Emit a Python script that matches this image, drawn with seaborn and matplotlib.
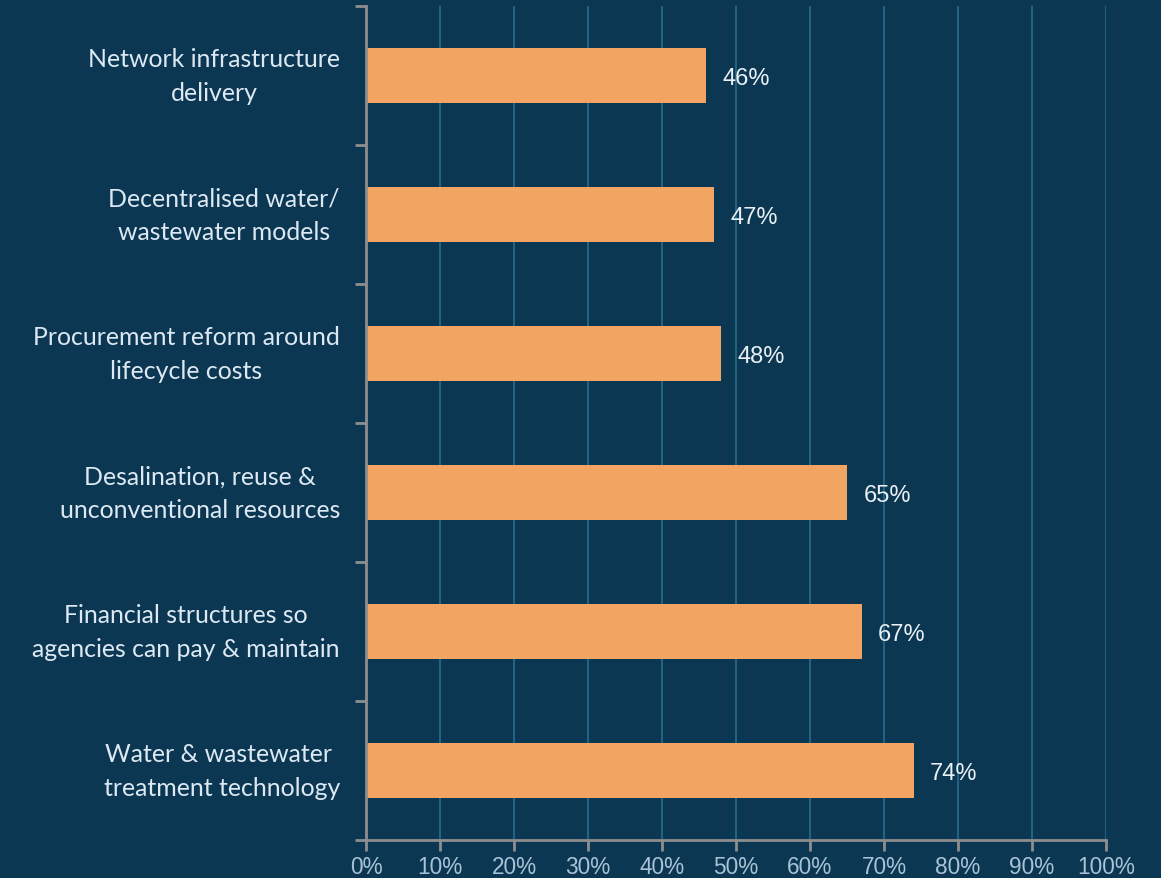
import matplotlib
matplotlib.use("Agg")
import matplotlib.pyplot as plt
import matplotlib.transforms as mtransforms
import seaborn as sns
import pandas as pd
import numpy as np

# Survey results: share of respondents naming each priority area
categories = [
    "Network infrastructure\ndelivery",
    "Decentralised water/\nwastewater models",
    "Procurement reform around\nlifecycle costs",
    "Desalination, reuse &\nunconventional resources",
    "Financial structures so\nagencies can pay & maintain",
    "Water & wastewater \ntreatment technology",
]
values = [46, 47, 48, 65, 67, 74]
x_ticks = [0, 10, 20, 30, 40, 50, 60, 70, 80, 90, 100]
x_tick_labels = [f"{t}%" for t in x_ticks]

BG = "#0C3753"
BAR = "#F2A462"
GRID = "#2A7194"
SPINE = "#8E8E8E"
CAT_TEXT = "#DCE8F2"
TICK_TEXT = "#A9C3D6"
VALUE_TEXT = "#EAF0F4"

sns.set_theme(style="white")
plt.rcParams["font.family"] = ["Liberation Sans", "DejaVu Sans"]

df = pd.DataFrame({"category": categories, "value": values})

fig = plt.figure(figsize=(11.61, 8.79), dpi=100, facecolor=BG)
ax = fig.add_axes([366 / 1161, 1 - 841 / 879, 740 / 1161, (841 - 7) / 879])
ax.set_facecolor(BG)

sns.barplot(data=df, x="value", y="category", orient="h", color=BAR,
            width=0.4, saturation=1, linewidth=0, ax=ax, zorder=3)

ax.set_xlim(0, 100)
ax.set_ylim(len(categories) - 0.5, -0.5)

# Vertical gridlines at each 10% step
ax.set_xticks(x_ticks)
ax.set_xticklabels(x_tick_labels, color=TICK_TEXT, fontsize=16.3)
for t in x_ticks[1:]:
    ax.axvline(t, color=GRID, lw=1.1, zorder=1)
ax.grid(False)

# Tick marks on the y axis sit at the boundaries between categories
ax.set_yticks(np.arange(len(categories)))
ax.set_yticklabels([])
ax.set_yticks(np.arange(-0.5, len(categories), 1), minor=True)
ax.tick_params(axis="y", which="major", left=False, length=0)
ax.tick_params(axis="y", which="minor", left=True, length=8, width=2,
               color=SPINE, direction="out")
ax.tick_params(axis="x", which="major", bottom=True, length=8, width=2,
               color=SPINE, direction="out", pad=2.8)

# Category labels: right edge just left of the axis, lines centred
label_tf = mtransforms.blended_transform_factory(
    ax.transAxes, ax.transData) + mtransforms.ScaledTranslation(
    -26 / 100, 0, fig.dpi_scale_trans)
for i, cat in enumerate(categories):
    ax.text(0, i, cat, transform=label_tf, ha="right", va="center",
            multialignment="center", fontsize=17.9, color=CAT_TEXT,
            family=["Lato", "DejaVu Sans"], linespacing=1.55)

ax.set_xlabel("")
ax.set_ylabel("")

for side in ["top", "right"]:
    ax.spines[side].set_visible(False)
for side in ["left", "bottom"]:
    ax.spines[side].set_color(SPINE)
    ax.spines[side].set_linewidth(2)
    ax.spines[side].set_zorder(4)

# Value labels just past the end of each bar
for i, v in enumerate(values):
    ax.text(v + 2.2, i + 0.02, f"{v}%", va="center", ha="left",
            color=VALUE_TEXT, fontsize=17, zorder=5)

fig.savefig("out.png", dpi=100, facecolor=BG)
